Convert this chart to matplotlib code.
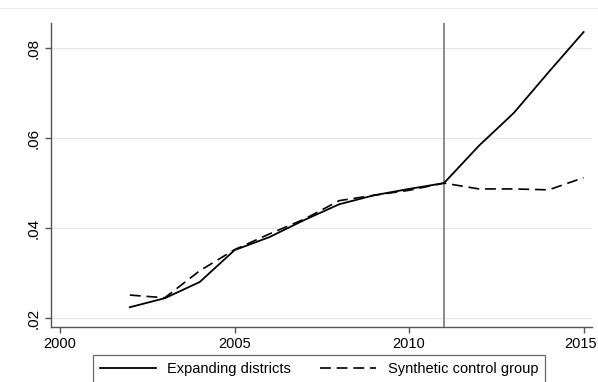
import matplotlib
matplotlib.use("Agg")
import matplotlib.pyplot as plt
from matplotlib.lines import Line2D
from matplotlib.transforms import ScaledTranslation

plt.rcParams['font.family'] = ['Liberation Sans', 'DejaVu Sans']

years = [2002, 2003, 2004, 2005, 2006, 2007, 2008, 2009, 2010, 2011, 2012, 2013, 2014, 2015]
expanding = [0.0224, 0.0244, 0.0280, 0.0351, 0.0380, 0.0418, 0.0453, 0.0473, 0.0487, 0.0500,
             0.0583, 0.0656, 0.0747, 0.0836]
synthetic = [0.0251, 0.0245, 0.0305, 0.0352, 0.0387, 0.0420, 0.0461, 0.0473, 0.0484, 0.0500,
             0.0487, 0.0487, 0.0485, 0.0512]
treat_year = 2011
x_ticks = [2000, 2005, 2010, 2015]
y_ticks = [0.02, 0.04, 0.06, 0.08]
y_labels = [".02", ".04", ".06", ".08"]

W, H = 598, 382
fig = plt.figure(figsize=(W / 100, H / 100), dpi=100)
fig.patch.set_facecolor('white')

# faint band line near the top of the graph region
fig.add_artist(Line2D([0.0, 1.0], [1 - 8 / H, 1 - 8 / H], color='#ececec', lw=0.8))

ax = fig.add_axes([51 / W, (H - 327) / H, (592 - 51) / W, (327 - 23) / H])
ax.set_xlim(1999.74, 2015.24)
ax.set_ylim(0.018, 0.0856)

for yt in y_ticks:
    ax.axhline(yt, color='#e6e6e6', lw=0.8, zorder=0)

ax.axvline(treat_year, color='#8a8a8a', lw=1.4, zorder=1)

l1, = ax.plot(years, expanding, color='black', lw=1.3, zorder=3,
              solid_joinstyle='miter')
l2, = ax.plot(years, synthetic, color='black', lw=1.2, zorder=2,
              dashes=(6.5, 3.5))

for side in ['top', 'right']:
    ax.spines[side].set_visible(False)
for side in ['left', 'bottom']:
    ax.spines[side].set_color('#555555')
    ax.spines[side].set_linewidth(1.0)

ax.set_xticks(x_ticks)
ax.set_xticklabels([str(x) for x in x_ticks], fontsize=10.5)
ax.set_yticks(y_ticks)
ax.set_yticklabels(y_labels, fontsize=11, rotation=90, va='center')
ax.tick_params(axis='both', direction='out', length=4.5, width=1.0, color='#555555', pad=3)

# keep the last year label inside the figure edge
last = ax.get_xticklabels()[-1]
last.set_transform(last.get_transform() + ScaledTranslation(-3 / 100, 0, fig.dpi_scale_trans))

leg = fig.legend([l1, l2], ['Expanding districts', 'Synthetic control group'],
                 loc='upper left', bbox_to_anchor=(93 / W, 1 - 355 / H),
                 ncol=2, fontsize=10.5, frameon=True, fancybox=False,
                 handlelength=3.8, handletextpad=0.8, columnspacing=2.0,
                 borderpad=0.5, borderaxespad=0)
leg.get_frame().set_edgecolor('#444444')
leg.get_frame().set_linewidth(0.9)

fig.savefig('out.png', dpi=100)
